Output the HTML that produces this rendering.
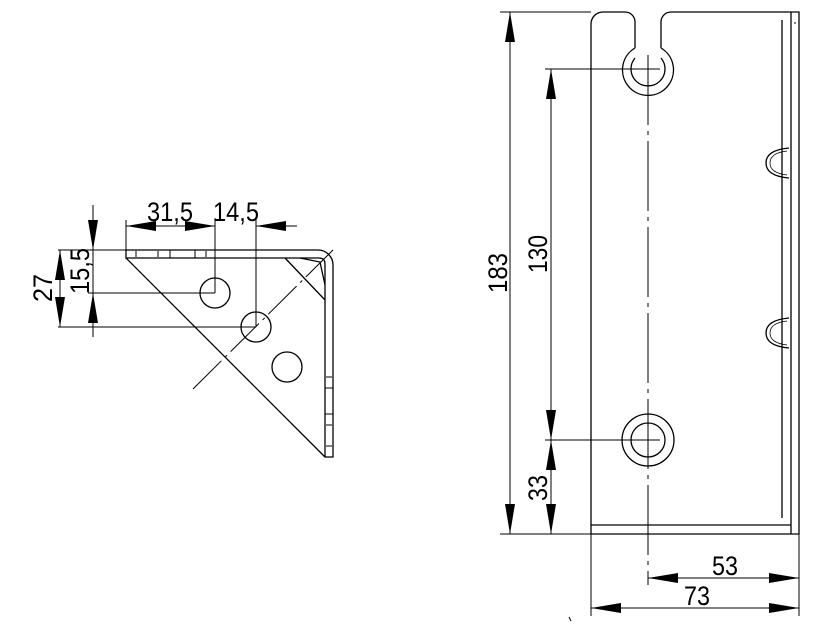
<!DOCTYPE html>
<html><head><meta charset="utf-8"><style>
html,body{margin:0;padding:0;background:#fff}
svg{display:block}
text{font-family:"Liberation Sans",sans-serif;font-size:27px;fill:#000}
</style></head><body>
<svg width="834" height="638" viewBox="0 0 834 638" xmlns="http://www.w3.org/2000/svg">
<defs>
<marker id="a" viewBox="0 0 30 10" refX="30" refY="5" markerWidth="30" markerHeight="10" markerUnits="userSpaceOnUse" orient="auto"><path d="M0,0 L30,5 L0,10 z" fill="#000"/></marker>
</defs>
<g stroke="#000" stroke-width="1.3" fill="none">
<!-- LEFT VIEW -->
<path d="M126,250 H318 A15,15 0 0 1 333,265 V457 H325 V264 Q325,258 319,258 H126 Z"/>
<line x1="126" y1="258" x2="325" y2="457"/>
<line x1="285" y1="258" x2="325" y2="300"/>
<path d="M300,258 L320,262 L325,285"/>
<circle cx="215" cy="293" r="15"/>
<circle cx="256" cy="327" r="15"/>
<circle cx="287" cy="367" r="15"/>
<line x1="193" y1="389" x2="333" y2="250" stroke-dasharray="40,5,3,5" stroke-width="1"/>
<g stroke-width="1">
<line x1="136" y1="251" x2="136" y2="257"/><line x1="158" y1="251" x2="158" y2="257"/>
<line x1="170" y1="250" x2="170" y2="258"/><line x1="195" y1="250" x2="195" y2="258"/>
<line x1="206" y1="251" x2="206" y2="257"/>
<line x1="326" y1="377" x2="332" y2="377"/><line x1="325" y1="388" x2="333" y2="388"/>
<line x1="325" y1="414" x2="333" y2="414"/><line x1="326" y1="425" x2="332" y2="425"/>
<line x1="326" y1="446" x2="332" y2="446"/>
</g>
<!-- left dims -->
<g stroke-width="1">
<line x1="126" y1="220" x2="126" y2="250"/>
<line x1="215" y1="218" x2="215" y2="293"/>
<line x1="256" y1="218" x2="256" y2="327"/>
<line x1="170" y1="226" x2="126" y2="226" marker-end="url(#a)"/>
<line x1="170" y1="226" x2="215" y2="226" marker-end="url(#a)"/>
<line x1="297" y1="226" x2="256" y2="226" marker-end="url(#a)"/>
<line x1="58" y1="250" x2="126" y2="250"/>
<line x1="88" y1="293" x2="215" y2="293"/>
<line x1="58" y1="327" x2="256" y2="327"/>
<line x1="60" y1="288" x2="60" y2="250" marker-end="url(#a)"/>
<line x1="60" y1="288" x2="60" y2="327" marker-end="url(#a)"/>
<line x1="93" y1="205" x2="93" y2="250" marker-end="url(#a)"/>
<line x1="93" y1="337" x2="93" y2="293" marker-end="url(#a)"/>
<line x1="93" y1="250" x2="93" y2="293"/>
</g>
<!-- RIGHT VIEW -->
<path d="M591,534 V24 A12,12 0 0 1 603,12 H625 A10,10 0 0 1 635,22 V48"/>
<path d="M661,48 V22 A10,10 0 0 1 671,12 H799 V534 H591"/>
<line x1="791" y1="12" x2="791" y2="534"/>
<line x1="782" y1="20" x2="782" y2="518"/>
<line x1="591" y1="525" x2="791" y2="525"/>
<line x1="795" y1="22" x2="795" y2="24" stroke-width="1"/>
<path d="M635,48 A25.5,25.5 0 1 0 661,48"/>
<path d="M635,58 A17,17 0 1 0 661,58"/>
<circle cx="648" cy="440" r="26"/>
<circle cx="648" cy="440" r="17"/>
<path d="M789,148 Q766,150 766,163 Q766,176 789,178"/>
<path d="M787,151 Q770,153 770,163 Q770,173 787,175" stroke-width="0.8"/>
<path d="M789,318 Q766,320 766,333 Q766,346 789,348"/>
<path d="M787,321 Q770,323 770,333 Q770,343 787,345" stroke-width="0.8"/>
<line x1="648" y1="55" x2="648" y2="585" stroke-dasharray="70,6,4,6" stroke-width="1"/>
<!-- right dims -->
<g stroke-width="1">
<line x1="500" y1="12" x2="591" y2="12"/>
<line x1="500" y1="534" x2="591" y2="534"/>
<line x1="545" y1="69" x2="660" y2="69"/>
<line x1="545" y1="440" x2="660" y2="440"/>
<line x1="510" y1="270" x2="510" y2="12" marker-end="url(#a)"/>
<line x1="510" y1="270" x2="510" y2="534" marker-end="url(#a)"/>
<line x1="551" y1="250" x2="551" y2="69" marker-end="url(#a)"/>
<line x1="551" y1="250" x2="551" y2="440" marker-end="url(#a)"/>
<line x1="551" y1="488" x2="551" y2="440" marker-end="url(#a)"/>
<line x1="551" y1="488" x2="551" y2="534" marker-end="url(#a)"/>
<line x1="591" y1="534" x2="591" y2="616"/>
<line x1="799" y1="534" x2="799" y2="616"/>
<line x1="720" y1="578" x2="648" y2="578" marker-end="url(#a)"/>
<line x1="720" y1="578" x2="799" y2="578" marker-end="url(#a)"/>
<line x1="700" y1="608" x2="591" y2="608" marker-end="url(#a)"/>
<line x1="700" y1="608" x2="799" y2="608" marker-end="url(#a)"/>
<line x1="569" y1="617" x2="571" y2="621"/>
</g>
</g>
<text x="147" y="221" textLength="46" lengthAdjust="spacingAndGlyphs">31,5</text>
<text x="213" y="221" textLength="46" lengthAdjust="spacingAndGlyphs">14,5</text>
<text transform="translate(52,288) rotate(-90)" text-anchor="middle" textLength="28" lengthAdjust="spacingAndGlyphs">27</text>
<text transform="translate(89,271) rotate(-90)" text-anchor="middle" textLength="46" lengthAdjust="spacingAndGlyphs">15,5</text>
<text transform="translate(507,273) rotate(-90)" text-anchor="middle" textLength="40" lengthAdjust="spacingAndGlyphs">183</text>
<text transform="translate(547,254) rotate(-90)" text-anchor="middle" textLength="38" lengthAdjust="spacingAndGlyphs">130</text>
<text transform="translate(547,488) rotate(-90)" text-anchor="middle" textLength="26" lengthAdjust="spacingAndGlyphs">33</text>
<text x="725" y="575" text-anchor="middle" textLength="26" lengthAdjust="spacingAndGlyphs">53</text>
<text x="697" y="605" text-anchor="middle" textLength="26" lengthAdjust="spacingAndGlyphs">73</text>
</svg>
</body></html>
